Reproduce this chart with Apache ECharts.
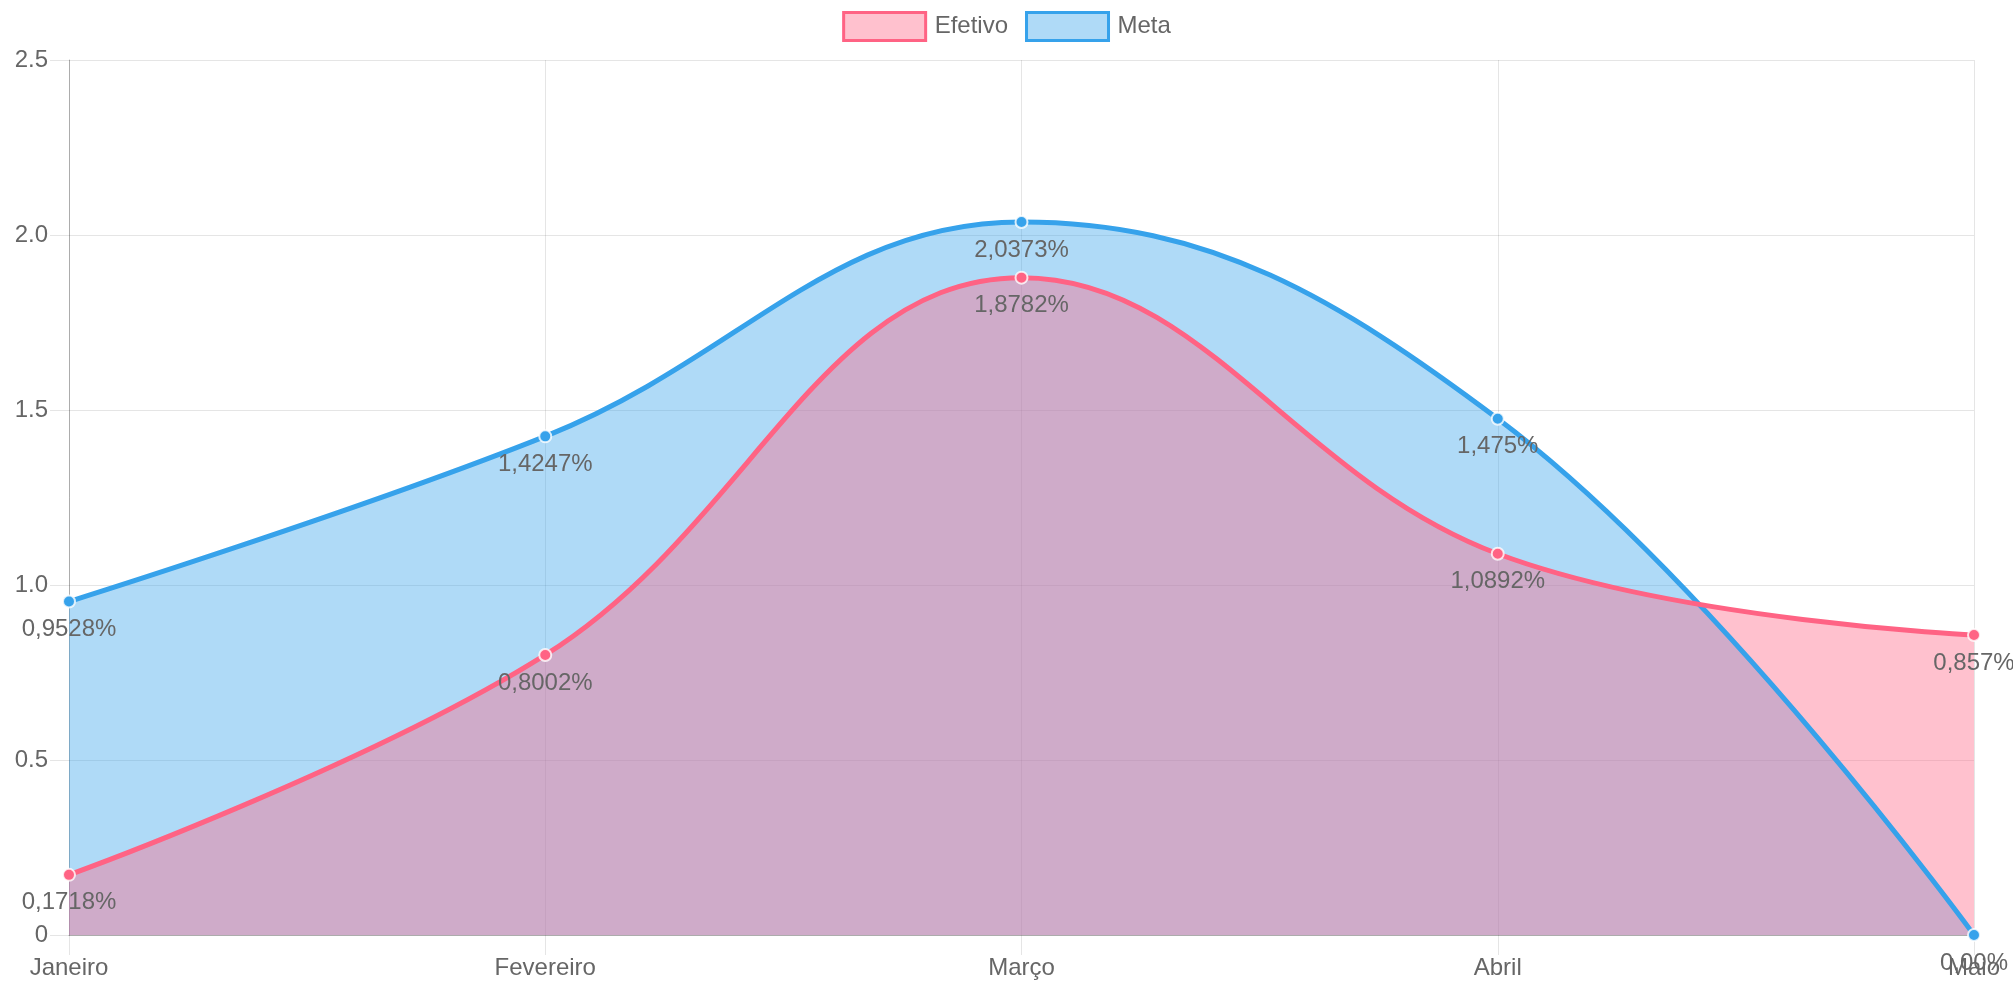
<!DOCTYPE html>
<html>
<head>
<meta charset="utf-8">
<script src="https://cdn.jsdelivr.net/npm/echarts@6/dist/echarts.min.js"></script>
<style>
    html, body { margin: 0; padding: 0; background: #fff; }
    #chart { width: 2013px; height: 982px; }
</style>
</head>
<body>
<div id="chart"></div>
<script>
// data
const months = ['Janeiro', 'Fevereiro', 'Março', 'Abril', 'Maio'];
const efetivo = [0.1718, 0.8002, 1.8782, 1.0892, 0.857];
const meta = [0.9528, 1.4247, 2.0373, 1.475, 0];
const yTicks = { min: 0, max: 2.5, step: 0.5 };

const FONT = "'Liberation Sans', Arial, Helvetica, sans-serif";
const PINK = 'rgb(255, 99, 132)';
const BLUE = 'rgb(54, 162, 235)';
const PINK_FILL = 'rgba(255, 99, 132, 0.4)';
const BLUE_FILL = 'rgba(54, 162, 235, 0.4)';

function pct(v) {
    if (v === 0) return '0,00%';
    return String(v).replace('.', ',') + '%';
}

// fills are drawn under every line (like chart.js filler), so split area and line
function areaSeries(name, values, fill, z) {
    return {
        name: name,
        type: 'line',
        data: values,
        smooth: 0.4,
        z: z,
        symbol: 'none',
        lineStyle: { width: 0 },
        areaStyle: { color: fill, opacity: 1 },
        silent: true,
        emphasis: { disabled: true }
    };
}

function lineSeries(name, values, color, z) {
    return {
        name: name,
        type: 'line',
        data: values,
        smooth: 0.4,
        z: z,
        symbol: 'circle',
        symbolSize: 12,
        lineStyle: { color: color, width: 5 },
        itemStyle: { color: color, borderColor: 'rgba(255,255,255,0.8)', borderWidth: 2 },
        label: {
            show: true,
            position: 'bottom',
            distance: 9,
            color: '#666',
            fontFamily: FONT,
            fontSize: 24,
            formatter: (p) => pct(p.value)
        },
        emphasis: { disabled: true }
    };
}

const chart = echarts.init(document.getElementById('chart'));

chart.setOption({
    animation: false,
    textStyle: { fontFamily: FONT },
    legend: {
        top: 6,
        left: 'center',
        icon: 'rect',
        itemWidth: 82,
        itemHeight: 28,
        itemGap: 17,
        textStyle: { color: '#666', fontSize: 24, fontFamily: FONT, padding: [0, 0, 0, 4] },
        data: [
            { name: 'Efetivo', itemStyle: { color: PINK_FILL, borderColor: PINK, borderWidth: 3 } },
            { name: 'Meta', itemStyle: { color: BLUE_FILL, borderColor: BLUE, borderWidth: 3 } }
        ]
    },
    grid: { left: 69, right: 39, top: 60, bottom: 47, containLabel: false },
    xAxis: {
        type: 'category',
        data: months,
        boundaryGap: false,
        axisLine: { lineStyle: { color: 'rgba(0,0,0,0.25)', width: 1 } },
        axisTick: { show: true, length: 20, lineStyle: { color: 'rgba(0,0,0,0.1)' } },
        axisLabel: { color: '#666', fontSize: 24, fontFamily: FONT, margin: 21, showMinLabel: true, showMaxLabel: true },
        splitLine: { show: true, lineStyle: { color: 'rgba(0,0,0,0.1)', width: 1 } }
    },
    yAxis: {
        type: 'value',
        min: yTicks.min,
        max: yTicks.max,
        interval: yTicks.step,
        axisLine: { show: true, lineStyle: { color: 'rgba(0,0,0,0.25)', width: 1 } },
        axisTick: { show: true, length: 19, lineStyle: { color: 'rgba(0,0,0,0.1)' } },
        axisLabel: {
            color: '#666', fontSize: 24, fontFamily: FONT, margin: 21,
            formatter: (v) => v === 0 ? '0' : v.toFixed(1)
        },
        splitLine: { show: true, lineStyle: { color: 'rgba(0,0,0,0.1)', width: 1 } }
    },
    series: [
        areaSeries('Meta', meta, BLUE_FILL, 1),
        areaSeries('Efetivo', efetivo, PINK_FILL, 2),
        lineSeries('Meta', meta, BLUE, 3),
        lineSeries('Efetivo', efetivo, PINK, 4)
    ]
});
</script>
</body>
</html>
